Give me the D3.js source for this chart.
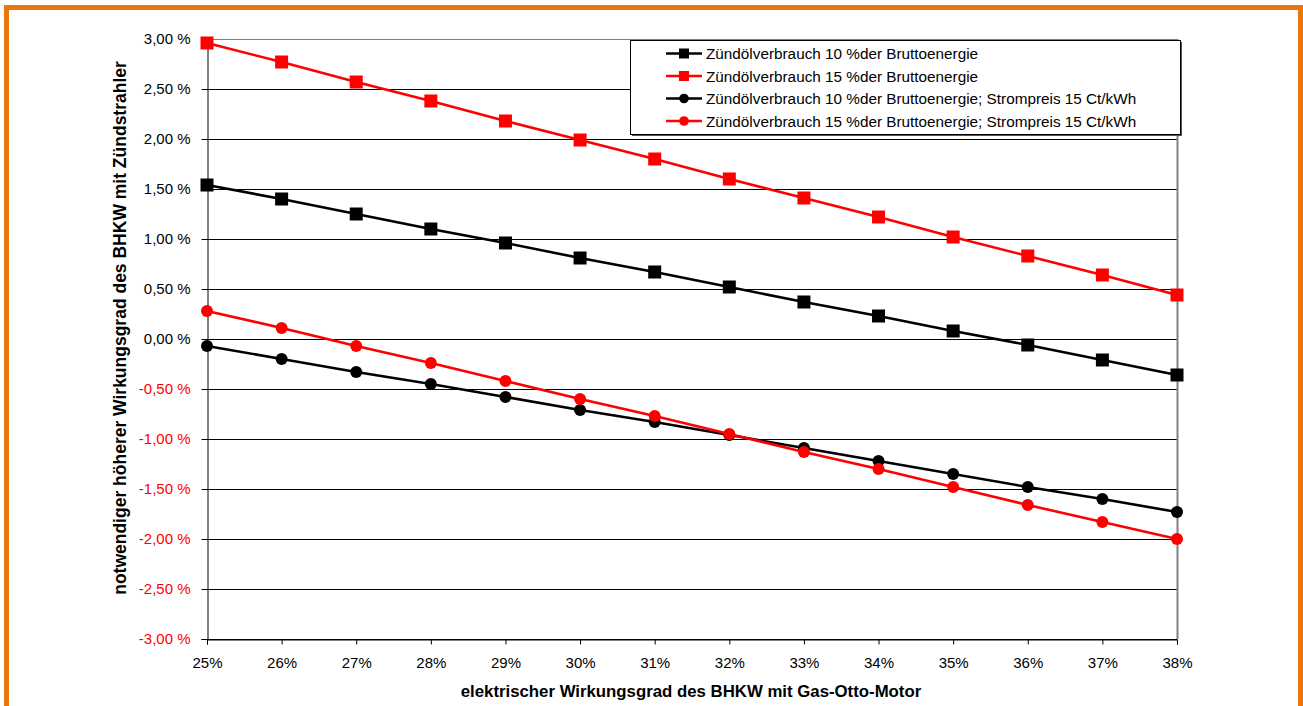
<!DOCTYPE html>
<html><head><meta charset="utf-8">
<script src="https://cdn.jsdelivr.net/npm/d3@7"></script>
<style>
html,body{margin:0;padding:0;background:#fff;}
svg text{font-family:"Liberation Sans",Arial,sans-serif;}
</style></head>
<body>
<svg id="c" width="1303" height="706"></svg>
<script>
const categories = [25,26,27,28,29,30,31,32,33,34,35,36,37,38];
const yTicks = [3,2.5,2,1.5,1,0.5,0,-0.5,-1,-1.5,-2,-2.5,-3];
const seriesNames = [
  "Zündölverbrauch 10 %der Bruttoenergie",
  "Zündölverbrauch 15 %der Bruttoenergie",
  "Zündölverbrauch 10 %der Bruttoenergie; Strompreis 15 Ct/kWh",
  "Zündölverbrauch 15 %der Bruttoenergie; Strompreis 15 Ct/kWh"
];
const seriesColors = ["#000000","#ff0000","#000000","#ff0000"];
const seriesMarkers = ["square","square","circle","circle"];
const black10 = [1.54,1.40,1.25,1.10,0.96,0.81,0.67,0.52,0.37,0.23,0.08,-0.06,-0.21,-0.36];
const red15 = [2.96,2.77,2.57,2.38,2.18,1.99,1.80,1.60,1.41,1.22,1.02,0.83,0.64,0.44];
const black10Strom = [-0.07,-0.20,-0.33,-0.45,-0.58,-0.71,-0.83,-0.96,-1.09,-1.22,-1.35,-1.48,-1.60,-1.73];
const red15Strom = [0.28,0.11,-0.07,-0.24,-0.42,-0.60,-0.77,-0.95,-1.13,-1.30,-1.48,-1.66,-1.83,-2.00];
const seriesValues = [black10, red15, black10Strom, red15Strom];

const svg = d3.select("#c");
// orange frame
svg.append("rect").attr("x",6.5).attr("y",7.5).attr("width",1294).attr("height",710)
  .attr("fill","none").attr("stroke","#E8770E").attr("stroke-width",5);

const L=207, R=1177, T=39, B=639;
const x = d3.scaleLinear().domain([25,38]).range([L,R]);
const y = d3.scaleLinear().domain([-3,3]).range([B,T]);

const g = svg.append("g");
// gridlines
g.selectAll("line.grid").data(yTicks).join("line")
  .attr("x1",L).attr("x2",R).attr("y1",d=>Math.round(y(d))+0.5).attr("y2",d=>Math.round(y(d))+0.5)
  .attr("stroke",d=>d===3?"#808080":"#000").attr("stroke-width",1);
// right border gray
g.append("line").attr("x1",R+0.5).attr("x2",R+0.5).attr("y1",T).attr("y2",B)
  .attr("stroke","#808080").attr("stroke-width",2);

// y axis
const fmtY = d => d3.format(".2f")(d).replace(".",",").replace("−","-") + " %";
const yAxis = d3.axisLeft(y).tickValues(yTicks).tickSize(6).tickPadding(11).tickFormat(fmtY);
const ya = svg.append("g").attr("transform",`translate(${L+0.5},0)`).call(yAxis);
ya.select(".domain").attr("stroke","#000");
ya.selectAll(".tick line").attr("stroke","#000");
ya.selectAll(".tick text").attr("font-size",15).attr("fill",d=>d<0?"#ff0000":"#000")
  .attr("font-family","Liberation Sans, Arial, sans-serif");

// x axis
const xAxis = d3.axisBottom(x).tickValues(categories).tickSize(5).tickFormat(d=>d+"%");
const xa = svg.append("g").attr("transform",`translate(0,${B+0.5})`).call(xAxis);
xa.select(".domain").attr("stroke","#000");
xa.selectAll(".tick line").attr("stroke","#000");
xa.selectAll(".tick text").attr("font-size",15).attr("fill","#000").attr("y",28).attr("dy",0)
  .attr("font-family","Liberation Sans, Arial, sans-serif");

// axis titles
svg.append("text").attr("x",691).attr("y",697).attr("text-anchor","middle")
  .attr("font-size",16.8).attr("font-weight","bold").text("elektrischer Wirkungsgrad des BHKW mit Gas-Otto-Motor");
svg.append("text").attr("transform",`translate(126,328) rotate(-90)`).attr("text-anchor","middle")
  .attr("font-size",17.5).attr("font-weight","bold").text("notwendiger höherer Wirkungsgrad des BHKW mit Zündstrahler");

// series
const line = d3.line().x((d,i)=>x(categories[i])).y(d=>y(d));
seriesValues.forEach((vals,si)=>{
  const sg = svg.append("g");
  sg.append("path").attr("d",line(vals)).attr("fill","none")
    .attr("stroke",seriesColors[si]).attr("stroke-width",2.6);
  if(seriesMarkers[si]==="square"){
    sg.selectAll("rect").data(vals).join("rect")
      .attr("x",(d,i)=>x(categories[i])-6.5).attr("y",d=>y(d)-6.5)
      .attr("width",13).attr("height",13).attr("fill",seriesColors[si]);
  } else {
    sg.selectAll("circle").data(vals).join("circle")
      .attr("cx",(d,i)=>x(categories[i])).attr("cy",d=>y(d)).attr("r",6)
      .attr("fill",seriesColors[si]);
  }
});

// legend
const lx=630, ly=40, lw=550, lh=94;
svg.append("rect").attr("x",lx+2).attr("y",ly+2).attr("width",lw).attr("height",lh).attr("fill","#555");
svg.append("rect").attr("x",lx+0.5).attr("y",ly+0.5).attr("width",lw).attr("height",lh)
  .attr("fill","#fff").attr("stroke","#000").attr("stroke-width",1);
seriesNames.forEach((nm,si)=>{
  const cy = 53.5+si*22.5;
  const lg = svg.append("g");
  lg.append("line").attr("x1",666).attr("x2",702).attr("y1",cy).attr("y2",cy)
    .attr("stroke",seriesColors[si]).attr("stroke-width",2.6);
  if(seriesMarkers[si]==="square"){
    lg.append("rect").attr("x",684-5).attr("y",cy-5).attr("width",10).attr("height",10).attr("fill",seriesColors[si]);
  } else {
    lg.append("circle").attr("cx",684).attr("cy",cy).attr("r",4.8).attr("fill",seriesColors[si]);
  }
  lg.append("text").attr("x",706).attr("y",cy+5.5).attr("font-size",15.3).attr("fill","#000").text(nm);
});
</script>
</body></html>
